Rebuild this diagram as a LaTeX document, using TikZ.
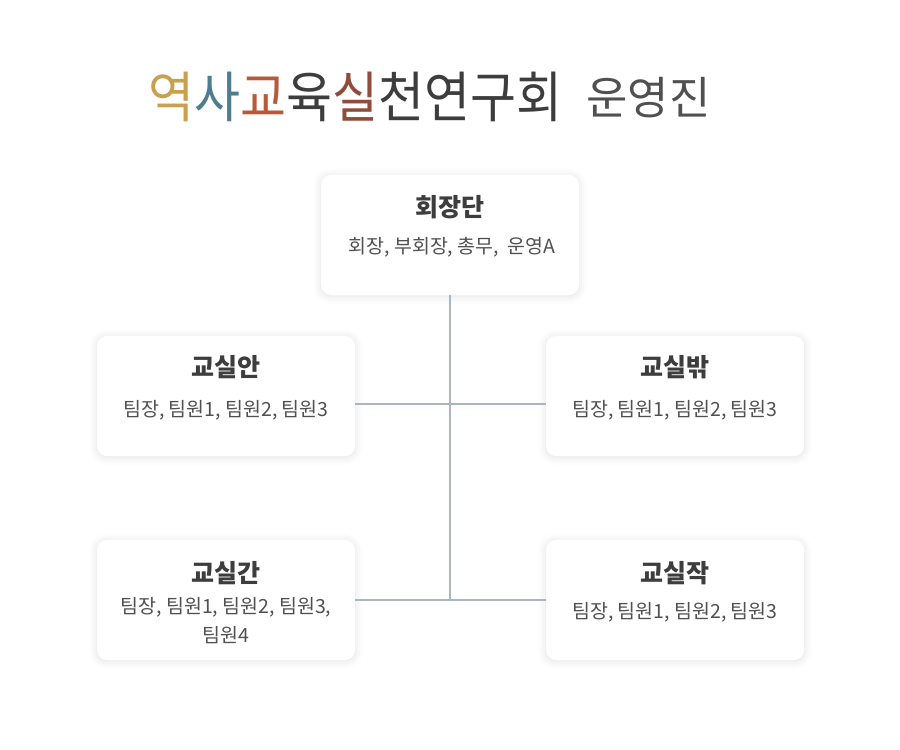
\documentclass[tikz,border=0pt]{standalone}
\usepackage{fontspec}
\setmainfont{Noto Sans CJK KR}
\usepackage{xcolor}
\usetikzlibrary{positioning,shadows.blur}

\definecolor{tgold}{HTML}{C9A050}
\definecolor{tblue}{HTML}{4F7C8E}
\definecolor{trust}{HTML}{B85A3A}
\definecolor{tbrown}{HTML}{8E4C3A}
\definecolor{tdark}{HTML}{3D3D3D}
\definecolor{linegray}{HTML}{A9B4C8}

\begin{document}
\begin{tikzpicture}[x=1pt,y=-1pt,
  team/.style={rectangle,rounded corners=10pt,fill=white,minimum width=258pt,minimum height=120pt,
    blur shadow={shadow xshift=0pt,shadow yshift=-1pt,shadow blur radius=8pt,shadow opacity=12}},
  teamname/.style={font=\fontsize{25}{28}\selectfont\bfseries,text=tdark},
  members/.style={font=\fontsize{19.5}{29}\selectfont,text=tdark!90,align=center},
  link/.style={draw=linegray,line width=1.8pt}]
  \useasboundingbox (0,0) rectangle (900,750);
  % title
  \node[anchor=base west,inner sep=0pt,font=\fontsize{50}{54}\selectfont,yscale=1.1] (title) at (148,117)
    {\textcolor{tgold}{역}\textcolor{tblue}{사}\textcolor{trust}{교}\textcolor{tdark}{육}\textcolor{tbrown}{실}\textcolor{tdark}{천연구회}};
  \node[anchor=base west,inner sep=0pt,font=\fontsize{45}{48}\selectfont,text=tdark!90] (staff) at (586,114) {운영진};
  % boxes
  \node[team] (hq) at (450,235) {};
  \node[team] (inner) at (226,396) {};
  \node[team] (outer) at (675,396) {};
  \node[team] (between) at (226,600) {};
  \node[team] (make) at (675,600) {};
  \coordinate (midjoin) at (450,404);
  % lines
  \draw[link] (hq.south) -- (hq.south |- between.east);
  \draw[link] (inner.east |- midjoin) -- (outer.west |- midjoin);
  \draw[link] (between.east) -- (make.west);
  % texts
  \node[teamname] (hqname) at (450,207) {회장단};
  \node[members] (hqlist) at (452,247) {회장, 부회장, 총무,\ \ 운영A};
  \node[teamname] (innername) at (226,367) {교실안};
  \node[members] (innerlist) at (226,410) {팀장, 팀원1, 팀원2, 팀원3};
  \node[teamname] (outername) at (675,367) {교실밖};
  \node[members] (outerlist) at (675,410) {팀장, 팀원1, 팀원2, 팀원3};
  \node[teamname] (betweenname) at (226,573) {교실간};
  \node[members] (betweenlist) at (226,621) {팀장, 팀원1, 팀원2, 팀원3,\\팀원4};
  \node[teamname] (makename) at (675,573) {교실작};
  \node[members] (makelist) at (675,612) {팀장, 팀원1, 팀원2, 팀원3};
\end{tikzpicture}
\end{document}
